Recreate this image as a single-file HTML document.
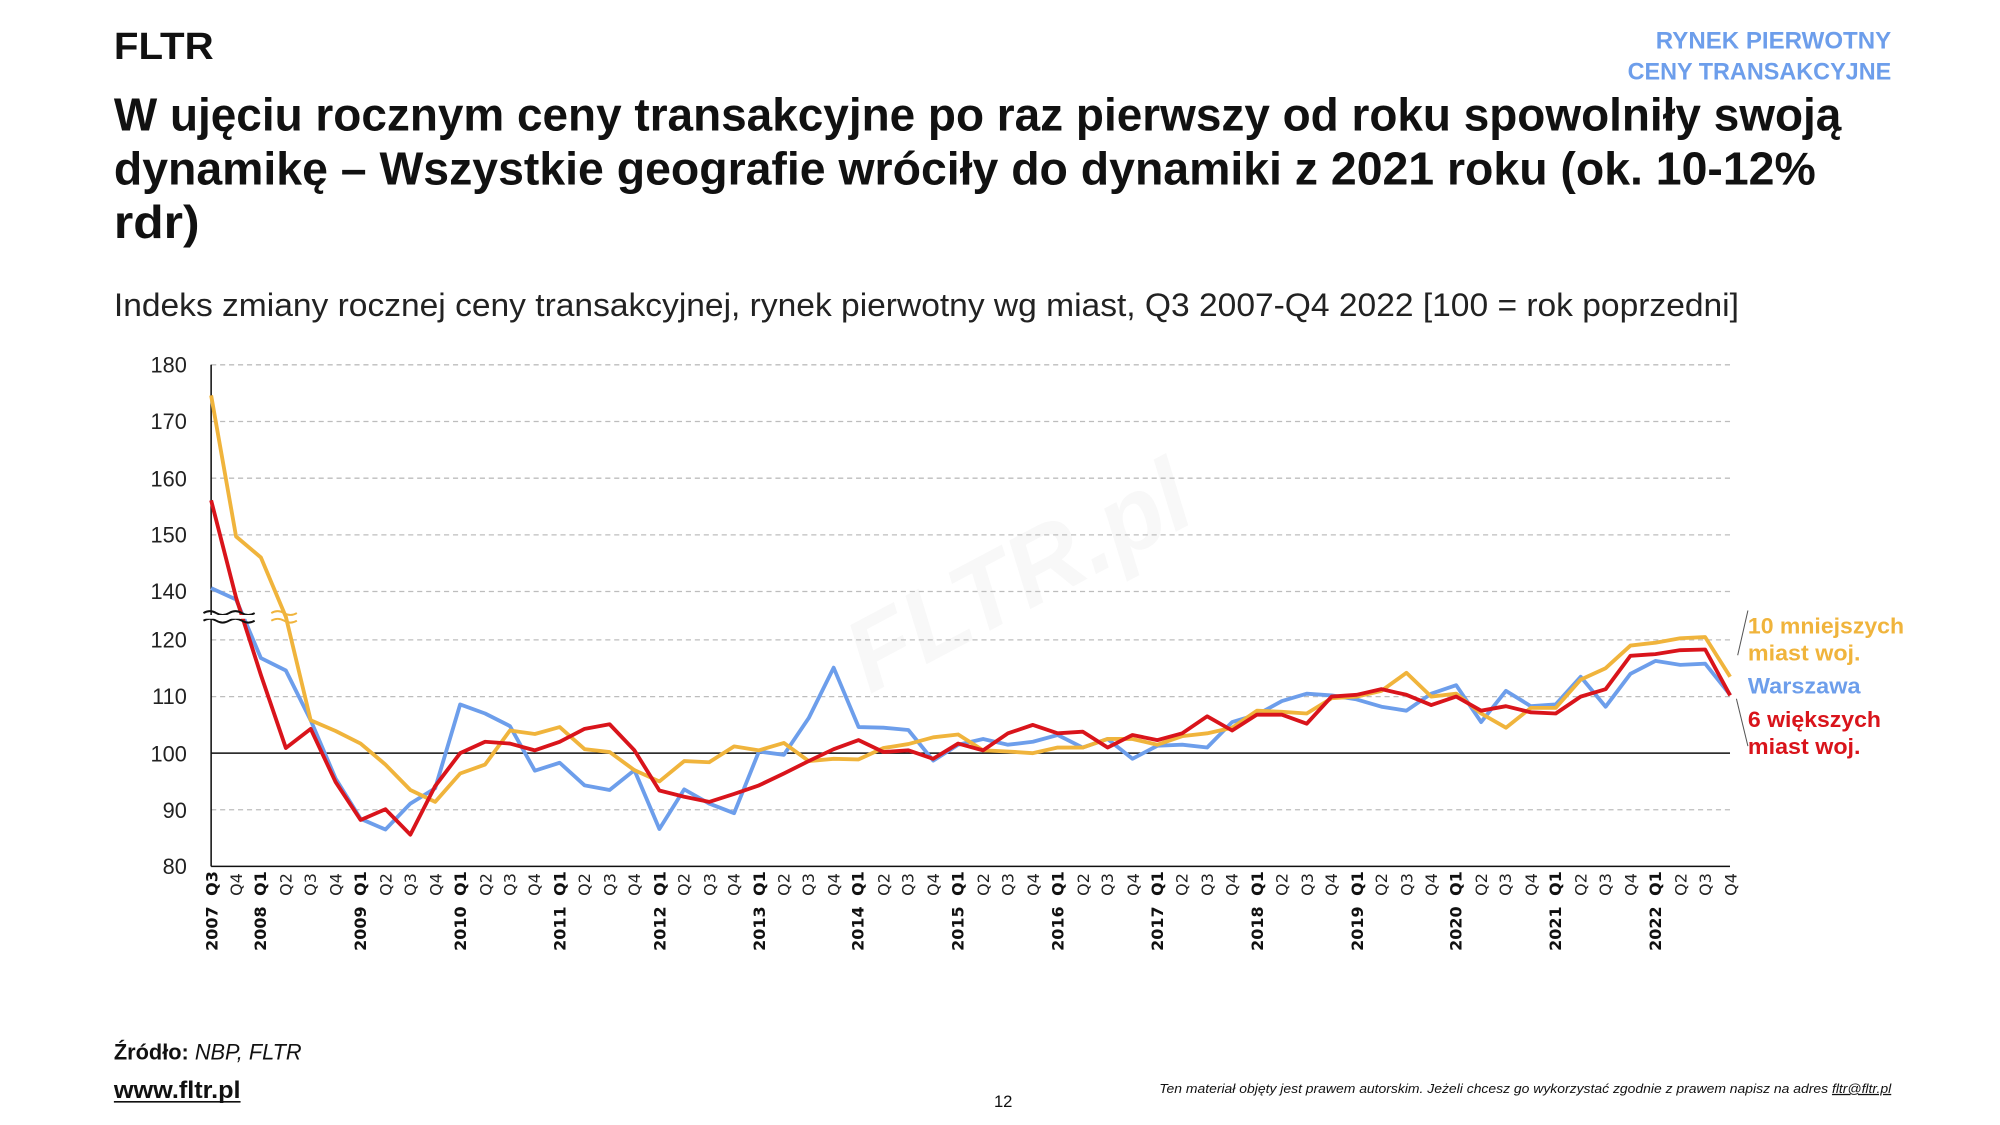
<!DOCTYPE html>
<html><head><meta charset="utf-8"><style>
html,body{margin:0;padding:0;background:#fff;}
svg{display:block;}
text{font-family:"Liberation Sans",sans-serif;}
.q{font-family:"DejaVu Sans","Liberation Sans",sans-serif;font-size:12.5px;fill:#222;}
.qb{font-family:"DejaVu Sans","Liberation Sans",sans-serif;font-size:12.5px;font-weight:bold;fill:#111;}
</style></head><body>
<svg id="s" width="2000" height="1125" viewBox="0 0 1563 879" xmlns="http://www.w3.org/2000/svg">
<rect width="1563" height="879" fill="#fff"/>
<text x="89" y="46" font-size="30" font-weight="bold" fill="#111" textLength="78" lengthAdjust="spacingAndGlyphs">FLTR</text>
<text x="1478" y="38" font-size="19" font-weight="bold" fill="#6d9eeb" text-anchor="end" textLength="184" lengthAdjust="spacingAndGlyphs">RYNEK PIERWOTNY</text>
<text x="1478" y="62" font-size="19" font-weight="bold" fill="#6d9eeb" text-anchor="end" textLength="206" lengthAdjust="spacingAndGlyphs">CENY TRANSAKCYJNE</text>
<text x="89" y="102" font-size="36" font-weight="bold" fill="#111" textLength="1350" lengthAdjust="spacingAndGlyphs">W ujęciu rocznym ceny transakcyjne po raz pierwszy od roku spowolniły swoją</text>
<text x="89" y="144" font-size="36" font-weight="bold" fill="#111" textLength="1330" lengthAdjust="spacingAndGlyphs">dynamikę – Wszystkie geografie wróciły do dynamiki z 2021 roku (ok. 10-12%</text>
<text x="89" y="186" font-size="36" font-weight="bold" fill="#111" textLength="67" lengthAdjust="spacingAndGlyphs">rdr)</text>
<text x="89" y="247" font-size="25" fill="#222" textLength="1270" lengthAdjust="spacingAndGlyphs">Indeks zmiany rocznej ceny transakcyjnej, rynek pierwotny wg miast, Q3 2007-Q4 2022 [100 = rok poprzedni]</text>
<text x="785" y="480" font-size="80" font-weight="bold" font-style="italic" fill="#f8f8f8" text-anchor="middle" transform="rotate(-28 785 430)">FLTR.pl</text>
<g stroke="#bdbdbd" stroke-width="1" stroke-dasharray="4,3">
<line x1="165" y1="285" x2="1352" y2="285"/><line x1="165" y1="329.3" x2="1352" y2="329.3"/>
<line x1="165" y1="373.6" x2="1352" y2="373.6"/><line x1="165" y1="417.9" x2="1352" y2="417.9"/>
<line x1="165" y1="462.2" x2="1352" y2="462.2"/><line x1="165" y1="500" x2="1352" y2="500"/>
<line x1="165" y1="544.3" x2="1352" y2="544.3"/><line x1="165" y1="632.7" x2="1352" y2="632.7"/>
</g>
<line x1="165" y1="588.5" x2="1352" y2="588.5" stroke="#111" stroke-width="1.2"/>
<line x1="165" y1="285" x2="165" y2="677" stroke="#111" stroke-width="1.2"/>
<line x1="165" y1="677" x2="1352" y2="677" stroke="#111" stroke-width="1.2"/>
<g font-size="17" fill="#222" text-anchor="end">
<text x="146" y="291">180</text><text x="146" y="335">170</text><text x="146" y="380">160</text>
<text x="146" y="424">150</text><text x="146" y="468">140</text><text x="146" y="506">120</text>
<text x="146" y="550">110</text><text x="146" y="595">100</text><text x="146" y="639">90</text><text x="146" y="683">80</text>
</g>
<g id="lines" fill="none" stroke-width="3" stroke-linejoin="round"></g>
<path d="M159 479 q5 -3 10 0 t10 0 t10 0 t10 0 M159 485 q5 -3 10 0 t10 0 t10 0 t10 0" stroke="#111" stroke-width="1.5" fill="none"/>
<path d="M159 482 h42" stroke="#fff" stroke-width="3"/>
<path d="M212 479 q5 -3 10 0 t10 0 M212 485 q5 -3 10 0 t10 0" stroke="#f0b43c" stroke-width="1.5" fill="none"/>
<line x1="1358" y1="512" x2="1366" y2="477" stroke="#555" stroke-width="0.8"/>
<line x1="1357" y1="546" x2="1366" y2="583" stroke="#555" stroke-width="0.8"/>
<g font-size="17" font-weight="bold">
<text x="1366" y="495" fill="#f0b43c" textLength="122" lengthAdjust="spacingAndGlyphs">10 mniejszych</text>
<text x="1366" y="516" fill="#f0b43c" textLength="88" lengthAdjust="spacingAndGlyphs">miast woj.</text>
<text x="1366" y="542" fill="#6d9eeb" textLength="88" lengthAdjust="spacingAndGlyphs">Warszawa</text>
<text x="1366" y="568" fill="#d9141b" textLength="104" lengthAdjust="spacingAndGlyphs">6 większych</text>
<text x="1366" y="589" fill="#d9141b" textLength="88" lengthAdjust="spacingAndGlyphs">miast woj.</text>
</g>
<text x="89" y="828" font-size="17" fill="#111"><tspan font-weight="bold">Źródło:</tspan><tspan font-style="italic"> NBP, FLTR</tspan></text>
<text x="89" y="858" font-size="19" font-weight="bold" fill="#111" textLength="99" lengthAdjust="spacingAndGlyphs">www.fltr.pl</text>
<line x1="89" y1="861" x2="188" y2="861" stroke="#111" stroke-width="1.3"/>
<text x="784" y="865" font-size="13" fill="#111" text-anchor="middle">12</text>
<text x="1478" y="854" font-size="10" font-style="italic" fill="#111" text-anchor="end" textLength="572" lengthAdjust="spacingAndGlyphs">Ten materiał objęty jest prawem autorskim. Jeżeli chcesz go wykorzystać zgodnie z prawem napisz na adres <tspan text-decoration="underline">fltr@fltr.pl</tspan></text>
<g id="xl">
<text class="qb" transform="translate(170,700) rotate(-90)">Q3</text><text class="qb" transform="translate(170,743) rotate(-90)">2007</text>
<text class="q" transform="translate(189,700) rotate(-90)">Q4</text>
<text class="qb" transform="translate(208,700) rotate(-90)">Q1</text><text class="qb" transform="translate(208,743) rotate(-90)">2008</text>
<text class="q" transform="translate(228,700) rotate(-90)">Q2</text><text class="q" transform="translate(247,700) rotate(-90)">Q3</text><text class="q" transform="translate(267,700) rotate(-90)">Q4</text>
<text class="qb" transform="translate(286,700) rotate(-90)">Q1</text><text class="qb" transform="translate(286,743) rotate(-90)">2009</text>
<text class="q" transform="translate(306,700) rotate(-90)">Q2</text><text class="q" transform="translate(325,700) rotate(-90)">Q3</text><text class="q" transform="translate(345,700) rotate(-90)">Q4</text>
<text class="qb" transform="translate(364,700) rotate(-90)">Q1</text><text class="qb" transform="translate(364,743) rotate(-90)">2010</text>
<text class="q" transform="translate(384,700) rotate(-90)">Q2</text><text class="q" transform="translate(403,700) rotate(-90)">Q3</text><text class="q" transform="translate(422,700) rotate(-90)">Q4</text>
<text class="qb" transform="translate(442,700) rotate(-90)">Q1</text><text class="qb" transform="translate(442,743) rotate(-90)">2011</text>
<text class="q" transform="translate(461,700) rotate(-90)">Q2</text><text class="q" transform="translate(481,700) rotate(-90)">Q3</text><text class="q" transform="translate(500,700) rotate(-90)">Q4</text>
<text class="qb" transform="translate(520,700) rotate(-90)">Q1</text><text class="qb" transform="translate(520,743) rotate(-90)">2012</text>
<text class="q" transform="translate(539,700) rotate(-90)">Q2</text><text class="q" transform="translate(559,700) rotate(-90)">Q3</text><text class="q" transform="translate(578,700) rotate(-90)">Q4</text>
<text class="qb" transform="translate(598,700) rotate(-90)">Q1</text><text class="qb" transform="translate(598,743) rotate(-90)">2013</text>
<text class="q" transform="translate(617,700) rotate(-90)">Q2</text><text class="q" transform="translate(636,700) rotate(-90)">Q3</text><text class="q" transform="translate(656,700) rotate(-90)">Q4</text>
<text class="qb" transform="translate(675,700) rotate(-90)">Q1</text><text class="qb" transform="translate(675,743) rotate(-90)">2014</text>
<text class="q" transform="translate(695,700) rotate(-90)">Q2</text><text class="q" transform="translate(714,700) rotate(-90)">Q3</text><text class="q" transform="translate(734,700) rotate(-90)">Q4</text>
<text class="qb" transform="translate(753,700) rotate(-90)">Q1</text><text class="qb" transform="translate(753,743) rotate(-90)">2015</text>
<text class="q" transform="translate(773,700) rotate(-90)">Q2</text><text class="q" transform="translate(792,700) rotate(-90)">Q3</text><text class="q" transform="translate(812,700) rotate(-90)">Q4</text>
<text class="qb" transform="translate(831,700) rotate(-90)">Q1</text><text class="qb" transform="translate(831,743) rotate(-90)">2016</text>
<text class="q" transform="translate(851,700) rotate(-90)">Q2</text><text class="q" transform="translate(870,700) rotate(-90)">Q3</text><text class="q" transform="translate(890,700) rotate(-90)">Q4</text>
<text class="qb" transform="translate(909,700) rotate(-90)">Q1</text><text class="qb" transform="translate(909,743) rotate(-90)">2017</text>
<text class="q" transform="translate(928,700) rotate(-90)">Q2</text><text class="q" transform="translate(948,700) rotate(-90)">Q3</text><text class="q" transform="translate(967,700) rotate(-90)">Q4</text>
<text class="qb" transform="translate(987,700) rotate(-90)">Q1</text><text class="qb" transform="translate(987,743) rotate(-90)">2018</text>
<text class="q" transform="translate(1006,700) rotate(-90)">Q2</text><text class="q" transform="translate(1026,700) rotate(-90)">Q3</text><text class="q" transform="translate(1045,700) rotate(-90)">Q4</text>
<text class="qb" transform="translate(1065,700) rotate(-90)">Q1</text><text class="qb" transform="translate(1065,743) rotate(-90)">2019</text>
<text class="q" transform="translate(1084,700) rotate(-90)">Q2</text><text class="q" transform="translate(1104,700) rotate(-90)">Q3</text><text class="q" transform="translate(1123,700) rotate(-90)">Q4</text>
<text class="qb" transform="translate(1142,700) rotate(-90)">Q1</text><text class="qb" transform="translate(1142,743) rotate(-90)">2020</text>
<text class="q" transform="translate(1162,700) rotate(-90)">Q2</text><text class="q" transform="translate(1181,700) rotate(-90)">Q3</text><text class="q" transform="translate(1201,700) rotate(-90)">Q4</text>
<text class="qb" transform="translate(1220,700) rotate(-90)">Q1</text><text class="qb" transform="translate(1220,743) rotate(-90)">2021</text>
<text class="q" transform="translate(1240,700) rotate(-90)">Q2</text><text class="q" transform="translate(1259,700) rotate(-90)">Q3</text><text class="q" transform="translate(1279,700) rotate(-90)">Q4</text>
<text class="qb" transform="translate(1298,700) rotate(-90)">Q1</text><text class="qb" transform="translate(1298,743) rotate(-90)">2022</text>
<text class="q" transform="translate(1318,700) rotate(-90)">Q2</text><text class="q" transform="translate(1337,700) rotate(-90)">Q3</text><text class="q" transform="translate(1357,700) rotate(-90)">Q4</text>
</g>
</svg>
<script>
(function(){
function up(v){return 285+(180-v)*4.43;}
function lo(v){return 677-(v-80)*4.425;}
function X(i){return 165+19.46*i;}
var Y=[['u',174.6],['u',149.7],['u',146],['y',482],105.8,103.9,101.7,98,93.5,91.4,96.4,98,104,103.4,104.6,100.7,100.2,97,95,98.6,98.4,101.2,100.5,101.8,98.6,99,98.9,100.9,101.6,102.8,103.3,100.5,100.3,100,101,101,102.5,102.5,101.5,103,103.5,104.5,107.5,107.3,107,109.7,110,111,114.2,110,110.5,107,104.5,108,108,113,115,119,119.5,120.3,120.5,113.5];
var B=[['u',140.6],['u',138.6],116.8,114.6,105.8,95.5,88.4,86.5,91.1,93.8,108.6,107,104.8,96.9,98.3,94.3,93.5,97,86.6,93.6,91.1,89.4,100.3,99.7,106.2,115.1,104.6,104.5,104.1,98.7,101.5,102.5,101.5,102,103.2,101,102.5,99,101.3,101.5,101,105.5,106.8,109.2,110.5,110.2,109.5,108.2,107.5,110.5,112,105.5,111,108.3,108.6,113.5,108.2,114,116.3,115.6,115.8,110.3];
var R=[['u',156.1],['y',467],113.8,100.9,104.3,94.9,88.2,90.1,85.6,94.2,100,102,101.7,100.5,102,104.3,105.1,100.5,93.4,92.3,91.4,92.8,94.3,96.4,98.6,100.7,102.3,100.2,100.5,99,101.7,100.5,103.5,105,103.5,103.8,101,103.2,102.3,103.5,106.5,104,106.8,106.8,105.2,110,110.3,111.3,110.3,108.5,110,107.5,108.3,107.2,107,110,111.3,117.2,117.5,118.2,118.3,110.2];
function pts(a){return a.map(function(v,i){var y;if(typeof v==='number')y=lo(v);else if(v[0]==='u')y=up(v[1]);else y=v[1];return X(i).toFixed(1)+','+y.toFixed(1);}).join(' ');}
var g=document.getElementById('lines'),ns='http://www.w3.org/2000/svg';
[[B,'#6d9eeb'],[Y,'#f0b43c'],[R,'#d9141b']].forEach(function(s){var p=document.createElementNS(ns,'polyline');p.setAttribute('points',pts(s[0]));p.setAttribute('stroke',s[1]);g.appendChild(p);});
})();
</script>
</body></html>
